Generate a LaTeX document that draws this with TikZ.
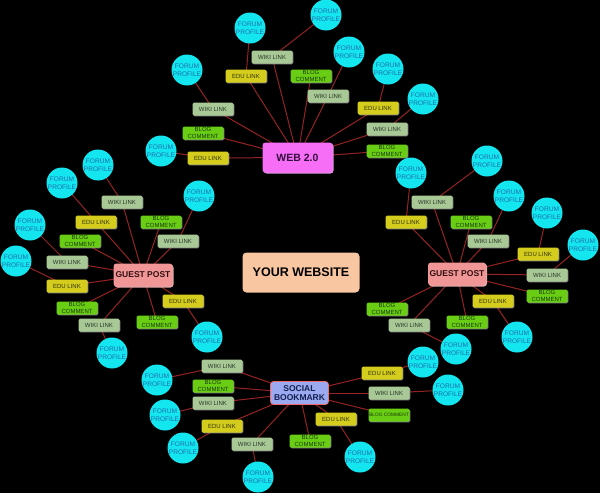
\documentclass[tikz,border=0pt]{standalone}
\usepackage{fontspec}
\setmainfont{Liberation Sans}
\usetikzlibrary{shadows}
\pgfdeclarelayer{background}
\pgfsetlayers{background,main}
\definecolor{wikic}{RGB}{168,200,150}
\definecolor{wikit}{RGB}{40,55,40}
\definecolor{educ}{RGB}{212,205,30}
\definecolor{edut}{RGB}{50,50,10}
\definecolor{blogc}{RGB}{105,205,20}
\definecolor{blogt}{RGB}{25,60,10}
\definecolor{cyanc}{RGB}{20,230,240}
\definecolor{fpt}{RGB}{30,110,170}
\definecolor{linec}{RGB}{150,35,35}
\definecolor{webc}{RGB}{245,110,245}
\definecolor{webt}{RGB}{50,15,60}
\definecolor{gpc}{RGB}{240,150,150}
\definecolor{gpt}{RGB}{50,15,15}
\definecolor{sbc}{RGB}{155,170,240}
\definecolor{sbt}{RGB}{20,30,80}
\definecolor{ywc}{RGB}{248,198,160}
\newcommand\mysmallfont{\fontsize{6}{6.2}\selectfont}
\newcommand\mytinyfont{\fontsize{4.8}{5}\selectfont}
\newcommand\myfpfont{\fontsize{6.6}{7.8}\selectfont}
\newcommand\myhubfont{\bfseries\fontsize{8.5}{9.5}\selectfont}
\begin{document}
\begin{tikzpicture}[x=1pt,y=-1pt,
  smallbox/.style={rectangle, rounded corners=1.5pt, minimum width=41pt, minimum height=13pt, inner sep=0pt, font=\mysmallfont, align=center,
    drop shadow={shadow xshift=0.8pt, shadow yshift=-0.8pt, fill=gray!70, opacity=0.8}},
  wikibox/.style={smallbox, fill=wikic, text=wikit},
  edubox/.style={smallbox, fill=educ, text=edut},
  blogbox/.style={smallbox, fill=blogc, text=blogt},
  fp/.style={circle, fill=cyanc, minimum size=31pt, inner sep=0pt, font=\myfpfont, text=fpt, align=center},
  hubbox/.style={rectangle, rounded corners=3pt, inner sep=0pt, align=center, font=\myhubfont},
  edge/.style={draw=linec, line width=1pt}]
\useasboundingbox (0,0) rectangle (600,493);
% hubs
\node[hubbox, fill=webc, text=webt, minimum width=70pt, minimum height=30pt, font=\bfseries\fontsize{10.5}{11}\selectfont,
  drop shadow={shadow xshift=1pt, shadow yshift=-1pt, fill=webc!60!white, opacity=0.9}] (web) at (297.5,157.5) {WEB 2.0};
\node[hubbox, fill=gpc, text=gpt, minimum width=59pt, minimum height=23pt,
  drop shadow={shadow xshift=1pt, shadow yshift=-1pt, fill=gpc!60!white, opacity=0.9}] (gpl) at (143,275) {GUEST POST};
\node[hubbox, fill=gpc, text=gpt, minimum width=58pt, minimum height=23pt,
  drop shadow={shadow xshift=1pt, shadow yshift=-1pt, fill=gpc!60!white, opacity=0.9}] (gpr) at (457,274) {GUEST POST};
\node[hubbox, fill=sbc, text=sbt, draw=gpc!70!red, line width=0.6pt, minimum width=58pt, minimum height=23pt] (sb) at (299.5,393) {SOCIAL\\BOOKMARK};
\node[hubbox, fill=ywc, text=black, minimum width=117pt, minimum height=40pt, rounded corners=4pt, font=\bfseries\fontsize{12.5}{13}\selectfont] (yw) at (301,272.5) {YOUR WEBSITE};
% wiki links
\foreach \n/\x/\y in {w1/213/109, w5/272/57, w7/328/96, w9/387/129,
  l1/122/202, l4/178/241, l6/67/262, l11/99/325,
  r1/432/202, r4/488/241, r6/547/275, r10/409/325,
  s1/222/366, s3/213/403, s5/252/444, s9/389/393}
  \node[wikibox] (\n) at (\x,\y) {WIKI LINK};
% edu links
\foreach \n/\x/\y in {w3/208/158, w4/246/76, w8/378/108,
  l2/96/222, l7/67/286, l9/183/301,
  r2/406/222, r5/538/254, r8/493/301,
  s4/222/426, s7/336/419, s8/382/373}
  \node[edubox] (\n) at (\x,\y) {EDU LINK};
% blog comments
\foreach \n/\x/\y in {w2/203/133, w6/311/76, w10/387/151,
  l3/161/222, l5/80/241, l8/77/308, l10/157/322,
  r3/471/222, r7/547/296, r9/387/309, r11/467/322,
  s2/213/386, s6/310/441}
  \node[blogbox] (\n) at (\x,\y) {BLOG\\COMMENT};
\node[blogbox, font=\mytinyfont] (s10) at (389,415) {BLOG COMMENT};
% forum profiles
\foreach \n/\x/\y in {wc1/187/70, wc2/161/151, wc3/250/28, wc4/326/15, wc5/349/52, wc6/388/69, wc7/423/99,
  lc1/98/165, lc2/62/183, lc3/199/196, lc4/30/225, lc5/16/261, lc6/207/337, lc7/112/353,
  rc1/487/161, rc2/411/173, rc3/509/196, rc4/547/213, rc5/583/245, rc6/517/337, rc7/456/349,
  sc1/157/380, sc2/165/415, sc3/183/448, sc4/258/477, sc5/360/457, sc6/423/362, sc7/448/390}
  \node[fp] (\n) at (\x,\y) {FORUM\\PROFILE};
\begin{pgfonlayer}{background}
\fill[black] (0,0) rectangle (600,493);
\foreach \a/\b in {web/w1, web/w2, web/w3, web/w4, web/w5, web/w6, web/w7, web/w8, web/w9, web/w10,
  gpl/l1, gpl/l2, gpl/l3, gpl/l4, gpl/l5, gpl/l6, gpl/l7, gpl/l8, gpl/l9, gpl/l10, gpl/l11,
  gpr/r1, gpr/r2, gpr/r3, gpr/r4, gpr/r5, gpr/r6, gpr/r7, gpr/r8, gpr/r9, gpr/r10, gpr/r11,
  sb/s1, sb/s2, sb/s3, sb/s4, sb/s5, sb/s6, sb/s7, sb/s8, sb/s9, sb/s10,
  w1/wc1, w3/wc2, w4/wc3, w5/wc4, w7/wc5, w8/wc6, w9/wc7,
  l1/lc1, l2/lc2, l4/lc3, l6/lc4, l7/lc5, l9/lc6, l11/lc7,
  r1/rc1, r2/rc2, r4/rc3, r5/rc4, r6/rc5, r8/rc6, r10/rc7,
  s1/sc1, s3/sc2, s4/sc3, s5/sc4, s7/sc5, s8/sc6, s9/sc7}
  \draw[edge] (\a.center) -- (\b.center);
\end{pgfonlayer}
\end{tikzpicture}
\end{document}
